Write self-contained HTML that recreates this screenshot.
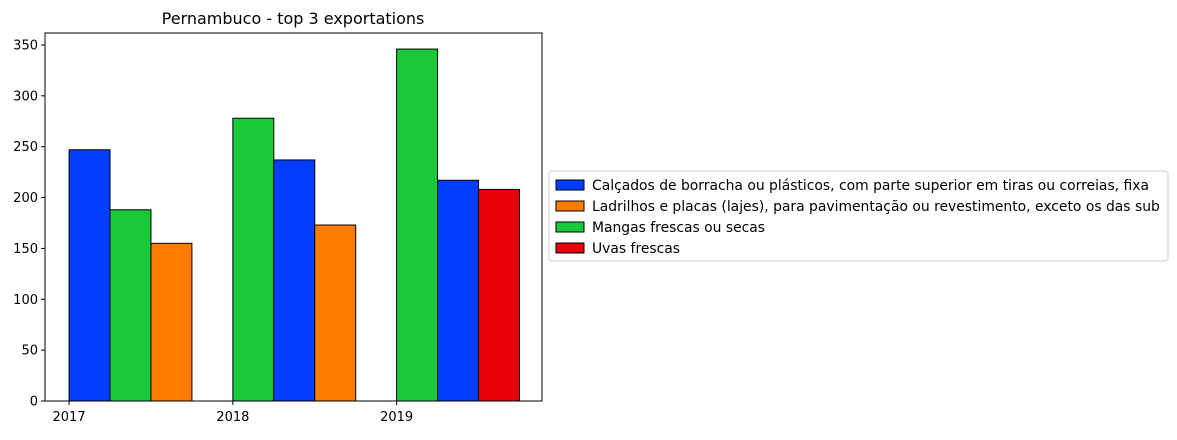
<!DOCTYPE html>
<html><head><meta charset="utf-8"><style>
body{margin:0;background:#fff;width:1177px;height:435px;overflow:hidden;font-family:"Liberation Sans","DejaVu Sans",sans-serif;}
</style></head><body>
<svg id="chart" width="1177" height="435" font-family="'DejaVu Sans','Liberation Sans',sans-serif">
<text x="293" y="24" font-size="16" text-anchor="middle">Pernambuco - top 3 exportations</text>
<g id="bars"></g>
<rect x="45" y="33" width="497" height="368" fill="none" stroke="#000" stroke-width="1"/>
<g id="axes" font-size="13"></g>
<g>
<rect x="549" y="171" width="619" height="90" fill="#fff" stroke="#ccc" rx="3"/>
<g id="legend" font-size="13.9"></g>
</g>
</svg>
<script>
const years=[2017,2018,2019];
const series=["Calçados de borracha ou plásticos, com parte superior em tiras ou correias, fixa","Ladrilhos e placas (lajes), para pavimentação ou revestimento, exceto os das sub","Mangas frescas ou secas","Uvas frescas"];
const colors=["#023eff","#ff7c00","#1ac938","#e8000b"];
const bars2017=[[0,247],[2,188],[1,155]];
const bars2018=[[2,278],[0,237],[1,173]];
const bars2019=[[2,346],[0,217],[3,208]];
const yTicks=[0,50,100,150,200,250,300,350];
const groups=[bars2017,bars2018,bars2019];
const X0=45,X1=542,Y0=401,Y1=33;
const xmin=2016.853,xmax=2019.8875,ymin=0,ymax=361.8;
const xs=v=>X0+(v-xmin)/(xmax-xmin)*(X1-X0);
const ys=v=>Y0-(v-ymin)/(ymax-ymin)*(Y0-Y1);
const NS="http://www.w3.org/2000/svg";
const bg=document.getElementById('bars');
groups.forEach((g,gi)=>{g.forEach((b,i)=>{
 const r=document.createElementNS(NS,'rect');
 const xa=xs(years[gi]+0.25*i),xb=xs(years[gi]+0.25*(i+1));
 r.setAttribute('x',xa);r.setAttribute('width',xb-xa);
 r.setAttribute('y',ys(b[1]));r.setAttribute('height',ys(0)-ys(b[1]));
 r.setAttribute('fill',colors[b[0]]);r.setAttribute('stroke','#000');
 
 
 bg.appendChild(r);});});
const ax=document.getElementById('axes');
yTicks.forEach(t=>{
 const y=ys(t);
 const l=document.createElementNS(NS,'line');
 l.setAttribute('x1',X0-4);l.setAttribute('x2',X0);l.setAttribute('y1',y);l.setAttribute('y2',y);l.setAttribute('stroke','#000');
 
 
 ax.appendChild(l);
 const tx=document.createElementNS(NS,'text');
 tx.setAttribute('x',X0-7);tx.setAttribute('y',y+4.5);tx.setAttribute('text-anchor','end');tx.textContent=t;
 
 
 ax.appendChild(tx);});
years.forEach(yr=>{
 const x=xs(yr);
 const l=document.createElementNS(NS,'line');
 l.setAttribute('x1',x);l.setAttribute('x2',x);l.setAttribute('y1',Y0);l.setAttribute('y2',Y0+4);l.setAttribute('stroke','#000');
 
 
 ax.appendChild(l);
 const tx=document.createElementNS(NS,'text');
 tx.setAttribute('x',x);tx.setAttribute('y',Y0+20);tx.setAttribute('text-anchor','middle');tx.textContent=yr;
 
 
 ax.appendChild(tx);});
const lg=document.getElementById('legend');
series.forEach((s,i)=>{
 const y=185+i*21;
 const r=document.createElementNS(NS,'rect');
 r.setAttribute('x',556);r.setAttribute('y',y-5);r.setAttribute('width',28);r.setAttribute('height',10);
 r.setAttribute('fill',colors[i]);r.setAttribute('stroke','#000');
 
 
 lg.appendChild(r);
 const tx=document.createElementNS(NS,'text');
 tx.setAttribute('x',592);tx.setAttribute('y',y+5);tx.textContent=s;
 
 
 lg.appendChild(tx);});
</script>
</body></html>
